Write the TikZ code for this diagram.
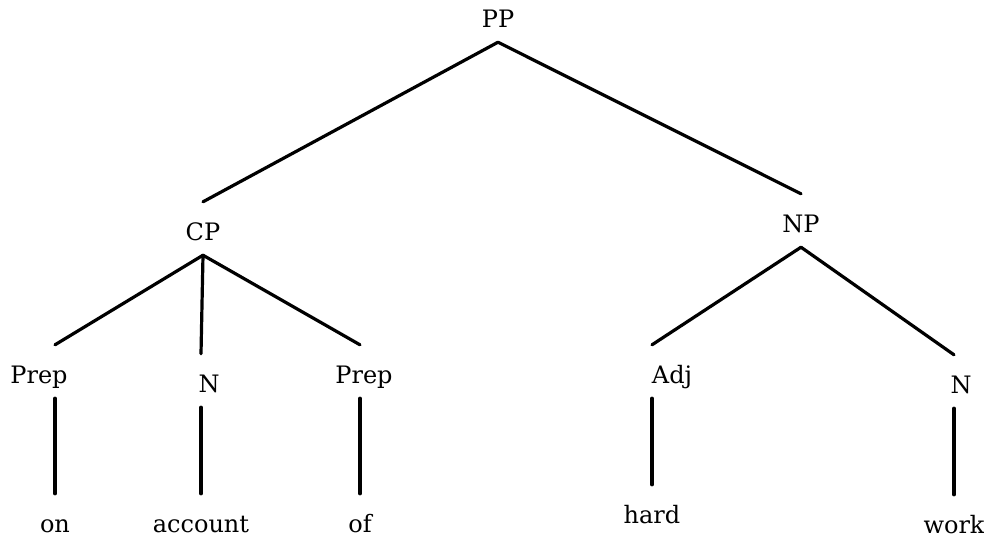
\documentclass[tikz,border=0pt]{standalone}
\usepackage{fontspec}
\setmainfont{DejaVu Serif}
\usepackage{tikz}
\usetikzlibrary{positioning}

\begin{document}
\begin{tikzpicture}[
          x=1pt, y=-1pt,
          every node/.style={anchor=base, inner xsep=2pt, inner ysep=9pt,
            text height=29pt, text depth=6pt,
            font=\fontsize{24}{28}\selectfont},
          branch/.style={line width=3.2pt, line cap=round, line join=round}
        ]
          \useasboundingbox (0,0) rectangle (984,542);
          \node (pp) at (498,27) {PP};
          \node (cp) at (203,240) {CP};
          \node (np) at (801,232) {NP};
          \node (prepa) at (39,383) {Prep};
          \node (na) at (209,392) {N};
          \node (prepb) at (364,383) {Prep};
          \node (adj) at (672,383) {Adj};
          \node (nb) at (961,393) {N};
          \node (on) at (55,532) {on};
          \node (account) at (201,532) {account};
          \node (of) at (360,532) {of};
          \node (hard) at (652,523) {hard};
          \node (work) at (954,533) {work};
          \draw[branch] (cp.north) -- (pp.south) -- (np.north);
          \foreach \pre/\leaf/\mother in {prepa/on/cp, na/account/cp, prepb/of/cp, adj/hard/np, nb/work/np}{
            \draw[branch] (\mother.south) -- (\pre.north -| \leaf.north);
            \draw[branch] (\pre.south -| \leaf.north) -- (\leaf.north);
          }
        \end{tikzpicture}
\end{document}
